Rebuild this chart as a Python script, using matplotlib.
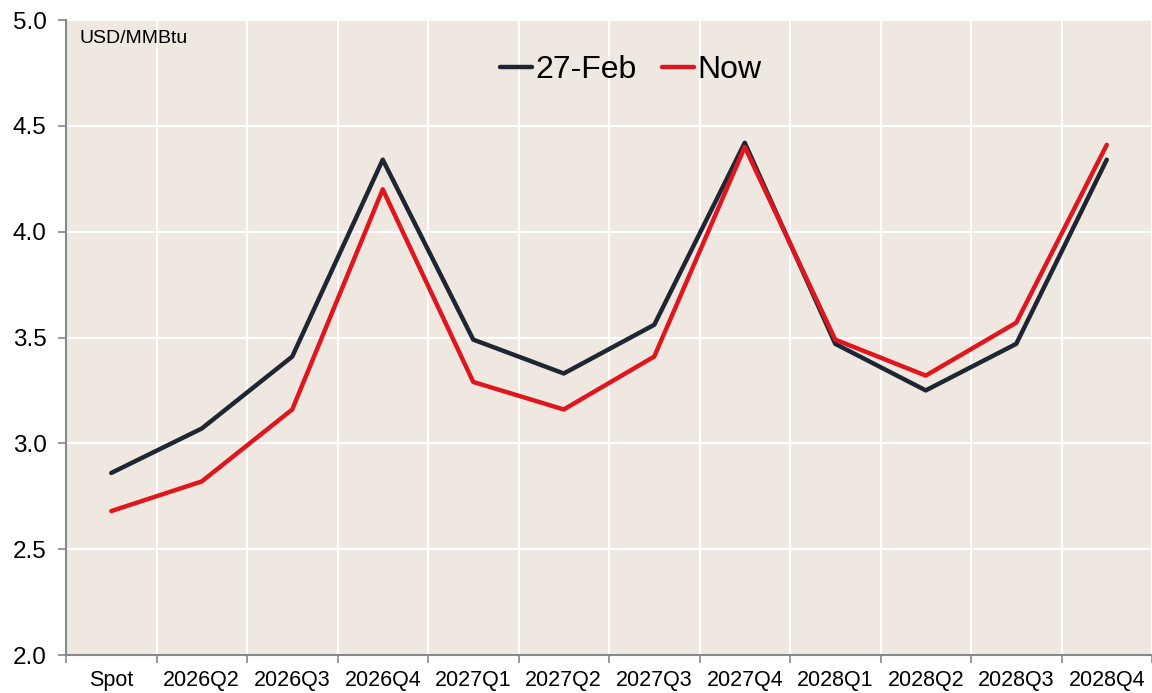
import matplotlib
matplotlib.use("Agg")
import matplotlib.pyplot as plt
import numpy as np

categories = ["Spot", "2026Q2", "2026Q3", "2026Q4", "2027Q1", "2027Q2",
              "2027Q3", "2027Q4", "2028Q1", "2028Q2", "2028Q3", "2028Q4"]
feb27 = [2.86, 3.07, 3.41, 4.34, 3.49, 3.33, 3.56, 4.42, 3.47, 3.25, 3.47, 4.34]
now = [2.68, 2.82, 3.16, 4.20, 3.29, 3.16, 3.41, 4.40, 3.49, 3.32, 3.57, 4.41]
y_ticks = [2.0, 2.5, 3.0, 3.5, 4.0, 4.5, 5.0]

plt.rcParams['font.family'] = ['Liberation Sans', 'DejaVu Sans']

fig = plt.figure(figsize=(11.52, 6.93), dpi=100)
ax = fig.add_axes([66/1152, 1-655/693, 1-66/1152, (655-20)/693])
ax.set_facecolor("#efe8e1")

x = np.arange(len(categories))
ax.plot(x, feb27, color="#1f2633", lw=3.2, label="27-Feb", solid_capstyle="round", zorder=3)
ax.plot(x, now, color="#e0161e", lw=3.2, label="Now", solid_capstyle="round", zorder=4)

ax.set_xlim(-0.5, len(categories) - 0.5)
ax.set_ylim(2.0, 5.0)
ax.set_yticks(y_ticks)
ax.set_yticklabels([f"{v:.1f}" for v in y_ticks], fontsize=17.5)

bounds = np.arange(len(categories) + 1) - 0.5
ax.set_xticks(bounds)
ax.set_xticklabels([""] * len(bounds))
ax.set_xticks(x, minor=True)
ax.set_xticklabels(categories, minor=True, fontsize=15.5)
ax.tick_params(axis="x", which="major", length=6, color="#888888", width=1.2)
ax.tick_params(axis="x", which="minor", length=0, pad=11)
ax.tick_params(axis="y", length=6, color="#888888", width=1.2, pad=8)

ax.grid(True, which="major", color="white", lw=1.5, zorder=0)
ax.set_axisbelow(True)

for s in ["top", "right"]:
    ax.spines[s].set_visible(False)
for s in ["left", "bottom"]:
    ax.spines[s].set_color("#888888")
    ax.spines[s].set_linewidth(1.5)

ax.text(0.012, 0.985, "USD/MMBtu", transform=ax.transAxes, fontsize=14, va="top", ha="left")

leg = ax.legend(loc="upper center", bbox_to_anchor=(0.52, 0.99), ncol=2, frameon=False,
                fontsize=23, handlelength=1.0, handletextpad=0.1, columnspacing=0.8)

fig.savefig("out.png", dpi=100)
